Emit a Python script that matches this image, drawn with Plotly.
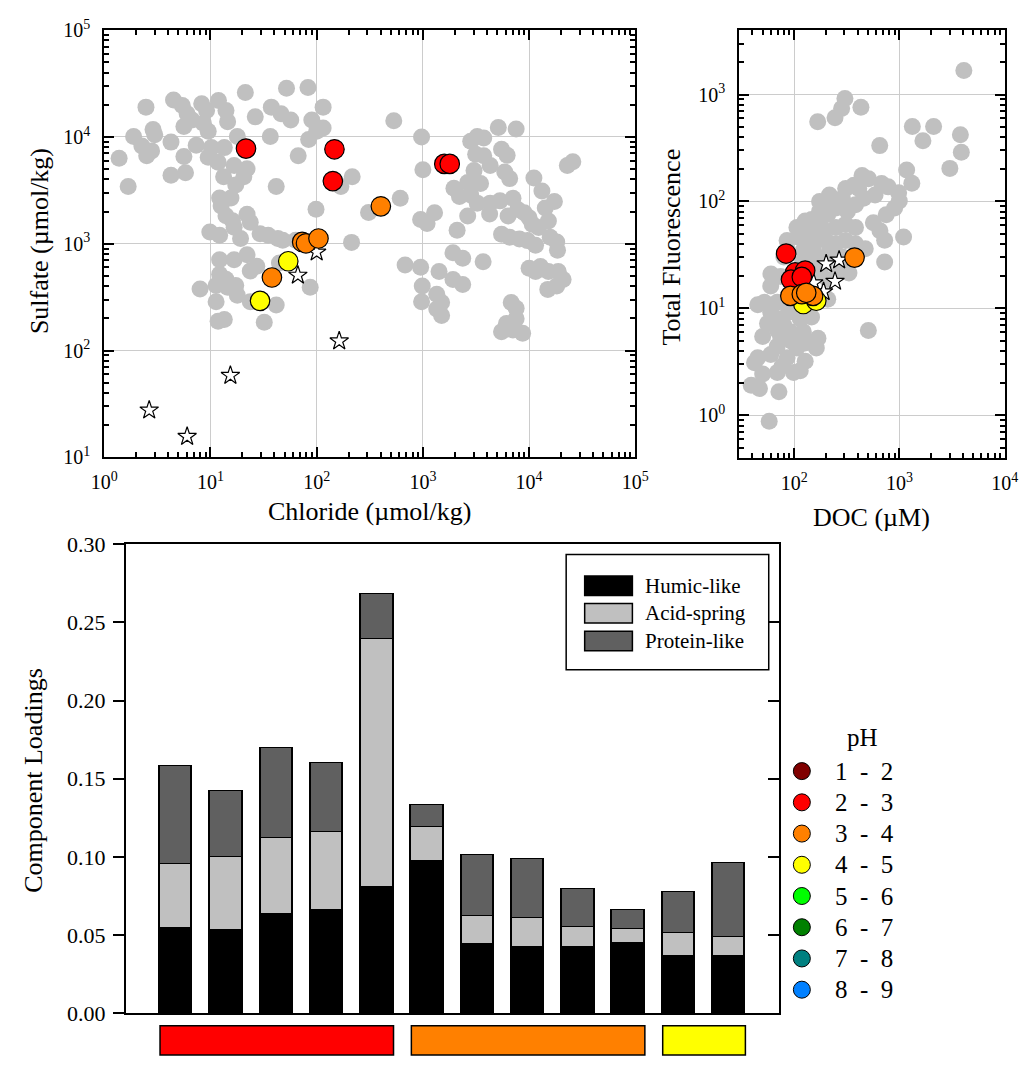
import math
import plotly.graph_objects as go

W, H = 1034, 1070
FONT = "Liberation Serif, Times New Roman, serif"
GRAY = "#c0c0c0"

# ---------------- pH classes ----------------
ph_labels = ["1 - 2", "2 - 3", "3 - 4", "4 - 5", "5 - 6", "6 - 7", "7 - 8", "8 - 9"]
ph_colors = ["#800000", "#ff0000", "#ff8000", "#ffff00", "#00ff00", "#008000", "#008080", "#0080ff"]

# ---------------- Sulfate vs chloride (umol/kg) ----------------
# compiled background springs
bg_chloride = [
    1.38, 1.68, 1.89, 2.26, 2.47, 2.51, 2.79, 2.88, 2.99, 4.25, 4.25, 4.49, 5.43, 5.62, 5.62, 5.82,
    6.03, 6.70, 7.34, 8.27, 8.57, 9.19, 9.52, 9.52, 10.2, 11.8, 11.9, 13.5, 14.0, 14.5, 13.3, 16.7,
    17.9, 17.3, 20.6, 22.1, 21.3, 26.4, 37.4, 36.6, 41.6, 46.2, 52.0, 57.0, 67.0, 82.8, 90.0, 84.0,
    100, 115, 115, 216, 169, 98.6, 308, 213, 12.2, 12.6, 15.6, 14.0, 16.1, 22.1, 23.7, 9.86,
    12.2, 16.7, 19.2, 29.3, 34.9, 43.1, 47.9, 12.2, 16.7, 22.1, 23.7, 27.3, 12.2, 14.0, 7.98, 11.3,
    14.5, 17.3, 17.9, 11.3, 23.7, 41.6, 11.8, 13.5, 32.1, 86.9, 44.6, 63.4,
    532, 972, 1000, 612, 952, 1095, 1288, 2100, 2640, 1960, 2210, 2820, 3250, 3490, 3030, 3140,
    3740, 3250, 3740, 2820, 4300, 5130, 7550, 5500, 6210, 5900, 6560, 11100, 13200, 17300, 22900, 25800,
    4300, 4250, 5320, 7050, 6340, 7810, 9000, 10000, 10700, 12300, 14200, 15200, 5500, 6560, 8110, 9660,
    11500, 15800, 18200, 18500, 10000, 11500, 15200, 18800, 20900, 15000, 18200, 680, 952, 1420, 986, 972,
    1920, 2370, 3690, 1920, 2370, 1350, 1500, 1350, 1500, 6790, 7550, 6120, 7550, 5500, 7050, 8690,
    12800, 2640,
]
bg_sulfate = [
    6300, 3430, 10100, 8220, 19000, 6660, 7400, 11700, 10500, 8940, 4380, 22200, 19700, 12500, 6570, 4630,
    16500, 14400, 8340, 20400, 13400, 17700, 11300, 6440, 7940, 5790, 21900, 7940, 17700, 13900, 4230, 5400,
    10100, 3550, 4230, 5040, 26100, 15400, 19000, 10100, 3430, 16500, 28600, 14400, 6660, 29000, 14400, 9460,
    11300, 19000, 12100, 4230, 3430, 2100, 1960, 1030, 2680, 2260, 2680, 1830, 1640, 1890, 1590, 1290,
    1200, 1430, 1120, 1240, 1200, 1120, 1080, 710, 710, 788, 556, 617, 518, 466, 378, 406,
    392, 406, 329, 286, 286, 267, 188, 195, 184, 392, 662, 1080,
    14200, 10000, 4920, 2670, 1690, 1545, 1950, 1340, 1820, 3300, 2770, 2860, 2400, 3660, 4850, 6880,
    6650, 10100, 9790, 9120, 5390, 12250, 11840, 7660, 6740, 4690, 4070, 4130, 3120, 2490, 5390, 5860,
    2400, 1900, 2520, 2670, 1820, 2090, 1950, 1750, 1520, 1420, 2160, 1630, 1230, 1150, 1110, 1070,
    966, 1150, 1040, 869, 590, 551, 551, 551, 462, 374, 402, 634, 603, 551, 402, 287,
    822, 730, 679, 462, 416, 337, 282, 245, 213, 282, 249, 179, 199, 150, 156, 145,
    612, 3740,
]

# study sites by pH class
cl_ph23 = [21.6, 147, 142, 1590, 1790]
so4_ph23 = [7780, 7660, 3860, 5590, 5590]
cl_ph34 = [402, 73, 79.3, 104, 37.9]
so4_ph34 = [2240, 1040, 1010, 1120, 483]
cl_ph45 = [54, 29.3]
so4_ph45 = [686, 292]
# reference waters (stars)
cl_ref = [100, 66.5, 163, 2.65, 6.03, 15.4]
so4_ref = [834, 507, 123, 27.7, 15.7, 58.5]

# ---------------- Total fluorescence vs DOC ----------------
bg_doc = [
    4090, 303, 282, 244, 167, 430, 649, 1325, 2110, 1670, 3790, 3870, 3010, 1170, 1310, 982,
    996, 748, 1094, 723, 723, 506,
    441, 508, 308, 369, 676, 780, 586, 456, 382, 320, 249, 208, 174, 146, 127, 106,
    141, 187, 249, 308, 382, 565, 652, 473, 382, 308, 249, 201, 162, 131, 122, 287,
    331, 267, 208, 174, 162, 79.6, 74.1, 59.8, 51.9, 69.0, 208, 146, 114, 88.5, 59.8, 55.7,
    79.6, 50.1, 74.1, 91.8, 168, 162, 127, 106, 69.0, 59.8, 45.0, 41.9, 85.5, 76.8, 114, 98.6,
    69.0, 50.1, 39.0, 46.7, 71.5, 57.8, 151, 45, 98.6, 146, 194, 110, 85.5, 899, 216, 174,
    69.0, 95, 60, 122, 151, 216, 308, 59.8, 74, 122, 127, 232, 287, 174, 410,
]
bg_tf = [
    1680, 918, 741, 608, 558, 759, 333, 502, 502, 370, 420, 288, 204, 197, 148, 121,
    101, 75.3, 46.5, 43.3, 27.2, 6.21,
    175, 163, 132, 142, 147, 137, 115, 107, 93.2, 81.0, 86.9, 75.5, 68.0, 68.0, 65.7, 57.1,
    53.3, 55.1, 57.1, 61.2, 57.1, 63.4, 53.3, 36.2, 40.2, 43.1, 40.2, 43.1, 44.7, 40.2, 34.9, 30.3,
    21.4, 21.4, 18.6, 23.0, 30.3, 30.3, 19.9, 16.2, 11.4, 11.4, 12.2, 8.30, 8.02, 9.23, 9.23, 7.21,
    6.96, 5.46, 5.46, 6.06, 5.26, 4.26, 4.74, 4.26, 4.42, 3.71, 3.46, 3.11, 3.46, 2.90, 2.61, 2.52,
    2.52, 2.44, 1.91, 1.78, 1.66, 0.88, 11.4, 10.8, 14.1, 19.3, 26.4, 46.2, 43.1, 86.9, 115, 100,
    6.28, 4.91, 21, 28, 37.5, 35, 24, 10.5, 8.0, 6.06, 3.2, 100, 107, 81, 132,
]

doc_ph23 = [83.7, 102, 127, 93.1, 118]
tf_ph23 = [32.6, 21.7, 22.6, 18.6, 19.7]
doc_ph34 = [374, 91.8, 118, 151, 130]
tf_ph34 = [29.9, 13.1, 13.6, 13.1, 14.0]
doc_ph45 = [122, 162]
tf_ph45 = [11.0, 11.8]
doc_ref = [201, 267, 244, 153, 190]
tf_ref = [26.1, 28.3, 17.9, 17.3, 14.3]

# ---------------- PARAFAC component loadings ----------------
sample_pos = list(range(1, 13))
humic_like = [0.0540, 0.0533, 0.0630, 0.0658, 0.0804, 0.0970, 0.0439, 0.0421, 0.0421, 0.0449, 0.0366, 0.0361]
acid_spring = [0.0413, 0.0467, 0.0486, 0.0502, 0.1590, 0.0220, 0.0180, 0.0185, 0.0129, 0.0089, 0.0148, 0.0127]
protein_like = [0.0627, 0.0420, 0.0579, 0.0440, 0.0286, 0.0143, 0.0391, 0.0377, 0.0241, 0.0120, 0.0260, 0.0473]
component_names = ["Humic-like", "Acid-spring", "Protein-like"]
component_colors = ["#000000", "#c0c0c0", "#606060"]
# pH class of consecutive sample groups: (class index, first sample, last sample)
sample_groups = [(1, 1, 5), (2, 6, 10), (3, 11, 12)]
BAR_W = 0.645


def px(x):
    return x / W


def py(y):
    return 1 - y / H


fig = go.Figure()


def scatter(x, y, xa, ya, size, color, symbol="circle", line=0):
    fig.add_trace(go.Scatter(
        x=x, y=y, mode="markers", xaxis=xa, yaxis=ya, showlegend=False, hoverinfo="skip",
        marker=dict(size=size, color=color, symbol=symbol,
                    line=dict(width=line, color="black")),
    ))


for xa, ya, bgx, bgy, ref, groups in [
    ("x", "y", bg_chloride, bg_sulfate, (cl_ref, so4_ref),
     [(cl_ph45, so4_ph45, 3), (cl_ph23, so4_ph23, 1), (cl_ph34, so4_ph34, 2)]),
    ("x2", "y2", bg_doc, bg_tf, (doc_ref, tf_ref),
     [(doc_ph45, tf_ph45, 3), (doc_ph23, tf_ph23, 1), (doc_ph34, tf_ph34, 2)]),
]:
    scatter(bgx, bgy, xa, ya, 17, GRAY)
    scatter(ref[0], ref[1], xa, ya, 14, "white", "star", 1.2)
    for gx, gy, ci in groups:
        scatter(gx, gy, xa, ya, 19.5, ph_colors[ci], "circle", 1.2)

# stacked bars
for vals, name, col in zip([humic_like, acid_spring, protein_like], component_names, component_colors):
    fig.add_trace(go.Bar(
        x=sample_pos, y=vals, name=name, width=BAR_W, xaxis="x3", yaxis="y3",
        marker=dict(color=col, line=dict(color="black", width=1.5)),
        showlegend=False, hoverinfo="skip",
    ))
# carries the right-hand tick marks of the loadings panel
totals = [a + b + c for a, b, c in zip(humic_like, acid_spring, protein_like)]
fig.add_trace(go.Scatter(x=sample_pos, y=totals, mode="markers", xaxis="x3", yaxis="y4",
                         marker=dict(opacity=0), showlegend=False, hoverinfo="skip"))


def log_axis(domain, rng, lo, hi, anchor, standoff):
    vals = [10 ** e for e in range(lo, hi + 1)]
    text = ["10<sup>%d</sup>" % e for e in range(lo, hi + 1)]
    minor = [m * 10 ** e for e in range(lo - 1, hi + 1) for m in range(2, 10)]
    return dict(
        type="log", domain=domain, range=rng, anchor=anchor,
        tickmode="array", tickvals=vals, ticktext=text,
        ticks="inside", ticklen=10, tickwidth=1.5, tickcolor="black",
        showline=True, linewidth=2, linecolor="black", mirror="ticks",
        showgrid=True, gridcolor="#cccccc", gridwidth=1.2, zeroline=False,
        tickfont=dict(family=FONT, size=20, color="black"), ticklabelstandoff=standoff,
        minor=dict(tickmode="array", tickvals=minor, ticks="inside", ticklen=5,
                   tickwidth=1.5, tickcolor="black", showgrid=False),
    )


fig.update_layout(
    width=W, height=H, margin=dict(l=0, r=0, t=0, b=0),
    paper_bgcolor="white", plot_bgcolor="white",
    font=dict(family=FONT, color="black"),
    barmode="stack", bargap=0,
    xaxis=log_axis([px(93.7), px(639)], [0, 5], 0, 5, "y", 6),
    yaxis=log_axis([py(455.5), py(17.5)], [1, 5], 1, 5, "x", 8),
    xaxis2=log_axis([px(745.7), px(1018.3)], [math.log10(30), 4], 2, 4, "y2", 6),
    yaxis2=log_axis([py(456), py(17.6)], [math.log10(0.4), math.log10(4000)], 0, 3, "x2", 8),
    xaxis3=dict(domain=[px(116), px(787)], range=[0, 13], anchor="y3",
                showline=True, linewidth=2, linecolor="black", mirror=True,
                ticks="", showticklabels=False, showgrid=False, zeroline=False),
    yaxis3=dict(domain=[py(1025), py(544.5)], range=[0, 0.30], anchor="x3",
                tick0=0, dtick=0.05, tickformat=".2f",
                ticks="outside", ticklen=11, tickwidth=1.5, tickcolor="black",
                showline=True, linewidth=2, linecolor="black", mirror=True,
                showgrid=False, zeroline=False, ticklabelstandoff=3,
                tickfont=dict(family=FONT, size=22, color="black")),
    yaxis4=dict(overlaying="y3", side="right", range=[0, 0.30], anchor="x3",
                tick0=0, dtick=0.05, ticks="inside", ticklen=11, tickwidth=1.5,
                tickcolor="black", showticklabels=False, showline=False,
                showgrid=False, zeroline=False),
)

shapes = []
annotations = []

# axis titles
for text, x, y, ang in [
    ("Chloride (\u00b5mol/kg)", 366.5, 511, 0),
    ("Sulfate (\u00b5mol/kg)", 27.5, 234, -90),
    ("DOC (\u00b5M)", 881.7, 516.7, 0),
    ("Total Fluorescence", 676, 240, -90),
    ("Component Loadings", 21.5, 786, -90),
]:
    annotations.append(dict(text=text, x=px(x), y=py(y), xref="paper", yref="paper",
                            xanchor="center", yanchor="middle", textangle=ang,
                            showarrow=False, font=dict(family=FONT, size=26, color="black")))

# component legend
shapes.append(dict(type="rect", xref="paper", yref="paper", x0=px(568), x1=px(776),
                   y0=py(673), y1=py(555), line=dict(color="black", width=1.5),
                   fillcolor="white", layer="above"))
for i, (name, col) in enumerate(zip(component_names, component_colors)):
    cy = 587 + 28.3 * i
    shapes.append(dict(type="rect", xref="paper", yref="paper", x0=px(587), x1=px(636),
                       y0=py(cy + 10), y1=py(cy - 10), fillcolor=col,
                       line=dict(color="black", width=1.5), layer="above"))
    annotations.append(dict(text=name, x=px(647), y=py(cy), xref="paper", yref="paper",
                            xanchor="left", yanchor="middle", showarrow=False,
                            font=dict(family=FONT, size=21, color="black")))

# pH colour key
annotations.append(dict(text="pH", x=px(872), y=py(743), xref="paper", yref="paper",
                        xanchor="center", yanchor="middle", showarrow=False,
                        font=dict(family=FONT, size=25, color="black")))
for i, (lab, col) in enumerate(zip(ph_labels, ph_colors)):
    cy = 777 + 32 * i
    shapes.append(dict(type="circle", xref="paper", yref="paper",
                       xsizemode="pixel", ysizemode="pixel",
                       xanchor=px(810), yanchor=py(cy),
                       x0=-8.5, x1=8.5, y0=-8.5, y1=8.5,
                       fillcolor=col, line=dict(color="black", width=1)))
    lo, hi = lab.split(" - ")
    annotations.append(dict(text=lo + "\u00a0\u00a0-\u00a0\u00a0" + hi, x=px(842), y=py(cy),
                            xref="paper", yref="paper", xanchor="left", yanchor="middle",
                            showarrow=False, font=dict(family=FONT, size=25, color="black")))

# pH class strips beneath the bars
for ci, first, last in sample_groups:
    shapes.append(dict(type="rect", xref="x3", yref="paper",
                       x0=first - BAR_W / 2, x1=last + BAR_W / 2,
                       y0=py(1068), y1=py(1038), fillcolor=ph_colors[ci],
                       line=dict(color="black", width=1.5)))

fig.update_layout(shapes=shapes, annotations=annotations)
fig.write_html("out.html")
